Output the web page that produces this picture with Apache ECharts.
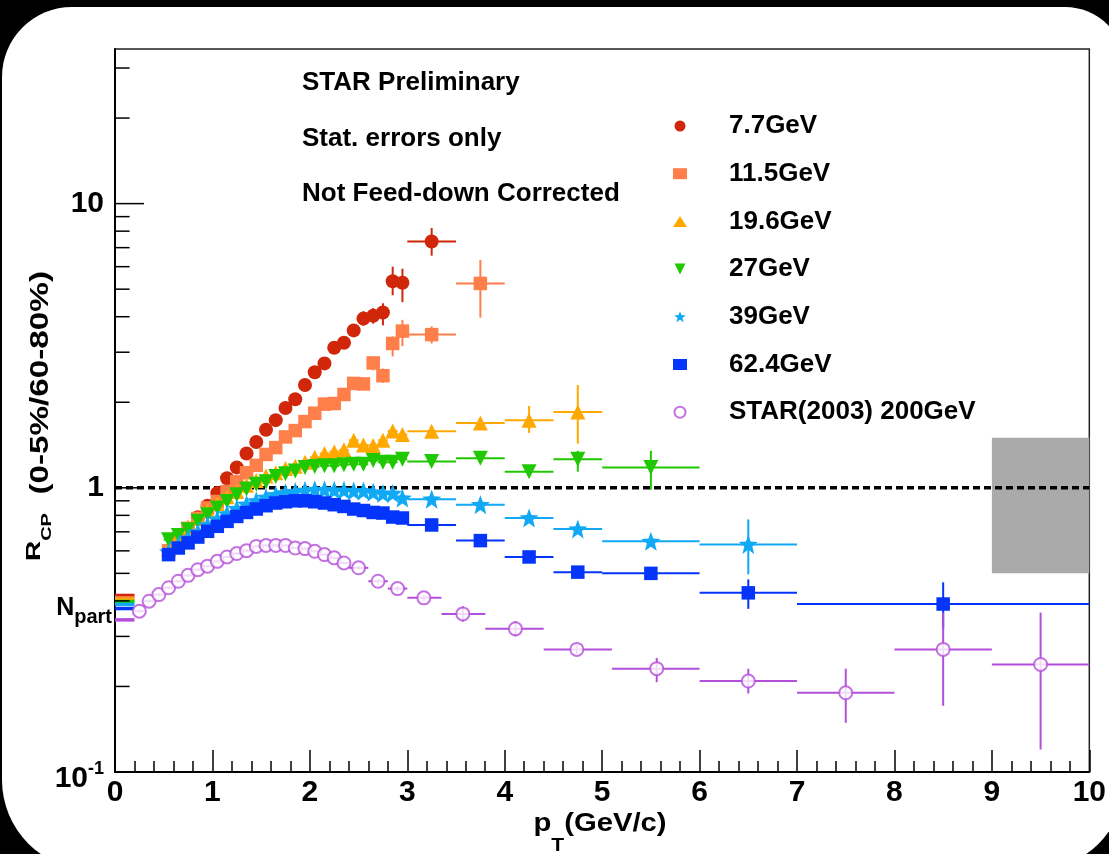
<!DOCTYPE html>
<html><head><meta charset="utf-8">
<script src="https://cdn.jsdelivr.net/npm/echarts@6/dist/echarts.min.js"></script>
<style>html,body{margin:0;padding:0;background:#000;overflow:hidden}#c{width:1109px;height:854px}</style>
</head><body><div id="c"></div>
<script>
// ---------------- data ----------------
const seriesNames = ['7.7GeV','11.5GeV','19.6GeV','27GeV','39GeV','62.4GeV','STAR(2003) 200GeV'];

const pt77 = [0.55,0.65,0.75,0.85,0.95,1.05,1.15,1.25,1.35,1.45,1.55,1.65,1.75,1.85,1.95,2.05,2.15,2.25,2.35,2.45,2.55,2.65,2.75,2.85,2.95,3.25];
const r77  = [0.60,0.65,0.71,0.787,0.865,0.958,1.08,1.18,1.32,1.45,1.60,1.73,1.91,2.05,2.30,2.55,2.74,3.11,3.24,3.58,3.94,4.03,4.14,5.33,5.27,7.36];
const ex77 = [0.05,0.05,0.05,0.05,0.05,0.05,0.05,0.05,0.05,0.05,0.05,0.05,0.05,0.05,0.05,0.05,0.05,0.05,0.05,0.05,0.05,0.05,0.05,0.05,0.05,0.25];
const eyLo77 = [0.01,0.01,0.01,0.01,0.02,0.02,0.02,0.03,0.03,0.04,0.04,0.05,0.05,0.06,0.07,0.08,0.09,0.10,0.11,0.13,0.22,0.25,0.41,0.57,0.77,0.80];
const eyHi77 = [0.01,0.01,0.01,0.01,0.02,0.02,0.02,0.03,0.03,0.04,0.04,0.05,0.05,0.06,0.07,0.08,0.09,0.10,0.11,0.13,0.24,0.26,0.32,0.67,0.63,0.85];

const pt115 = [0.55,0.65,0.75,0.85,0.95,1.05,1.15,1.25,1.35,1.45,1.55,1.65,1.75,1.85,1.95,2.05,2.15,2.25,2.35,2.45,2.55,2.65,2.75,2.85,2.95,3.25,3.75];
const r115  = [0.60,0.66,0.72,0.78,0.849,0.895,0.97,1.05,1.13,1.20,1.31,1.385,1.51,1.59,1.71,1.83,1.97,1.98,2.13,2.33,2.32,2.75,2.48,3.22,3.56,3.46,5.24];
const ex115 = [0.05,0.05,0.05,0.05,0.05,0.05,0.05,0.05,0.05,0.05,0.05,0.05,0.05,0.05,0.05,0.05,0.05,0.05,0.05,0.05,0.05,0.05,0.05,0.05,0.05,0.25,0.25];
const eyLo115 = [0.01,0.01,0.01,0.01,0.01,0.02,0.02,0.02,0.02,0.03,0.03,0.03,0.04,0.04,0.05,0.05,0.06,0.06,0.07,0.08,0.09,0.16,0.14,0.32,0.41,0.24,1.27];
const eyHi115 = [0.01,0.01,0.01,0.01,0.01,0.02,0.02,0.02,0.02,0.03,0.03,0.03,0.04,0.04,0.05,0.05,0.06,0.06,0.07,0.08,0.09,0.15,0.15,0.19,0.34,0.24,1.10];

const pt196 = [0.55,0.65,0.75,0.85,0.95,1.05,1.15,1.25,1.35,1.45,1.55,1.65,1.75,1.85,1.95,2.05,2.15,2.25,2.35,2.45,2.55,2.65,2.75,2.85,2.95,3.25,3.75,4.25,4.75];
const r196  = [0.61,0.67,0.73,0.78,0.83,0.88,0.93,0.97,1.02,1.06,1.10,1.13,1.17,1.19,1.23,1.28,1.32,1.34,1.36,1.47,1.415,1.41,1.47,1.585,1.54,1.58,1.69,1.73,1.85];
const ex196 = [0.05,0.05,0.05,0.05,0.05,0.05,0.05,0.05,0.05,0.05,0.05,0.05,0.05,0.05,0.05,0.05,0.05,0.05,0.05,0.05,0.05,0.05,0.05,0.05,0.05,0.25,0.25,0.25,0.25];
const eyLo196 = [0.01,0.01,0.01,0.01,0.01,0.02,0.02,0.02,0.02,0.02,0.02,0.02,0.02,0.02,0.02,0.03,0.03,0.03,0.03,0.03,0.03,0.04,0.04,0.05,0.05,0.03,0.04,0.17,0.42];
const eyHi196 = [0.01,0.01,0.01,0.01,0.01,0.02,0.02,0.02,0.02,0.02,0.02,0.02,0.02,0.02,0.02,0.03,0.03,0.03,0.03,0.03,0.03,0.04,0.04,0.05,0.05,0.03,0.04,0.21,0.45];

const pt27 = [0.55,0.65,0.75,0.85,0.95,1.05,1.15,1.25,1.35,1.45,1.55,1.65,1.75,1.85,1.95,2.05,2.15,2.25,2.35,2.45,2.55,2.65,2.75,2.85,2.95,3.25,3.75,4.25,4.75,5.5];
const r27  = [0.657,0.679,0.712,0.762,0.804,0.849,0.895,0.945,0.99,1.03,1.05,1.096,1.12,1.147,1.18,1.188,1.195,1.195,1.205,1.21,1.21,1.247,1.23,1.23,1.26,1.237,1.27,1.14,1.26,1.18];
const ex27 = [0.05,0.05,0.05,0.05,0.05,0.05,0.05,0.05,0.05,0.05,0.05,0.05,0.05,0.05,0.05,0.05,0.05,0.05,0.05,0.05,0.05,0.05,0.05,0.05,0.05,0.25,0.25,0.25,0.25,0.5];
const eyLo27 = [0.01,0.01,0.01,0.01,0.01,0.01,0.01,0.01,0.01,0.01,0.02,0.02,0.02,0.02,0.02,0.02,0.02,0.02,0.02,0.02,0.03,0.03,0.03,0.03,0.03,0.03,0.03,0.03,0.12,0.195];
const eyHi27 = [0.01,0.01,0.01,0.01,0.01,0.01,0.01,0.01,0.01,0.01,0.02,0.02,0.02,0.02,0.02,0.02,0.02,0.02,0.02,0.02,0.03,0.03,0.03,0.03,0.03,0.03,0.03,0.03,0.09,0.17];

const pt39 = [0.55,0.65,0.75,0.85,0.95,1.05,1.15,1.25,1.35,1.45,1.55,1.65,1.75,1.85,1.95,2.05,2.15,2.25,2.35,2.45,2.55,2.65,2.75,2.85,2.95,3.25,3.75,4.25,4.75,5.5,6.5];
const r39  = [0.595,0.63,0.665,0.70,0.74,0.775,0.81,0.845,0.875,0.90,0.925,0.945,0.96,0.97,0.98,0.985,0.985,0.98,0.98,0.975,0.975,0.965,0.955,0.955,0.92,0.912,0.872,0.783,0.716,0.648,0.632];
const ex39 = [0.05,0.05,0.05,0.05,0.05,0.05,0.05,0.05,0.05,0.05,0.05,0.05,0.05,0.05,0.05,0.05,0.05,0.05,0.05,0.05,0.05,0.05,0.05,0.05,0.05,0.25,0.25,0.25,0.25,0.5,0.5];
const eyLo39 = [0.01,0.01,0.01,0.01,0.01,0.01,0.01,0.01,0.01,0.01,0.01,0.01,0.01,0.01,0.01,0.01,0.01,0.01,0.01,0.01,0.01,0.01,0.01,0.01,0.01,0.02,0.02,0.02,0.02,0.02,0.136];
const eyHi39 = [0.01,0.01,0.01,0.01,0.01,0.01,0.01,0.01,0.01,0.01,0.01,0.01,0.01,0.01,0.01,0.01,0.01,0.01,0.01,0.01,0.01,0.01,0.01,0.01,0.01,0.02,0.02,0.02,0.02,0.02,0.142];

const pt624 = [0.55,0.65,0.75,0.85,0.95,1.05,1.15,1.25,1.35,1.45,1.55,1.65,1.75,1.85,1.95,2.05,2.15,2.25,2.35,2.45,2.55,2.65,2.75,2.85,2.95,3.25,3.75,4.25,4.75,5.5,6.5,8.5];
const r624  = [0.582,0.614,0.64,0.671,0.703,0.732,0.762,0.793,0.819,0.842,0.865,0.884,0.893,0.90,0.90,0.893,0.884,0.872,0.86,0.842,0.832,0.819,0.815,0.789,0.783,0.74,0.652,0.571,0.505,0.50,0.427,0.39];
const ex624 = [0.05,0.05,0.05,0.05,0.05,0.05,0.05,0.05,0.05,0.05,0.05,0.05,0.05,0.05,0.05,0.05,0.05,0.05,0.05,0.05,0.05,0.05,0.05,0.05,0.05,0.25,0.25,0.25,0.25,0.5,0.5,1.5];
const eyLo624 = [0.01,0.01,0.01,0.01,0.01,0.01,0.01,0.01,0.01,0.01,0.01,0.01,0.01,0.01,0.01,0.01,0.01,0.01,0.01,0.01,0.01,0.01,0.01,0.01,0.01,0.01,0.01,0.01,0.01,0.01,0.052,0.07];
const eyHi624 = [0.01,0.01,0.01,0.01,0.01,0.01,0.01,0.01,0.01,0.01,0.01,0.01,0.01,0.01,0.01,0.01,0.01,0.01,0.01,0.01,0.01,0.01,0.01,0.01,0.01,0.01,0.01,0.01,0.01,0.01,0.049,0.075];

const pt200 = [0.25,0.35,0.45,0.55,0.65,0.75,0.85,0.95,1.05,1.15,1.25,1.35,1.45,1.55,1.65,1.75,1.85,1.95,2.05,2.15,2.25,2.35,2.5,2.7,2.9,3.17,3.57,4.11,4.74,5.56,6.5,7.5,8.5,9.5];
const r200  = [0.368,0.399,0.421,0.445,0.469,0.492,0.515,0.530,0.551,0.571,0.587,0.601,0.622,0.627,0.627,0.627,0.614,0.611,0.598,0.582,0.567,0.544,0.523,0.469,0.442,0.410,0.360,0.319,0.270,0.231,0.209,0.190,0.270,0.239];
const exLo200 = [0.05,0.05,0.05,0.05,0.05,0.05,0.05,0.05,0.05,0.05,0.05,0.05,0.05,0.05,0.05,0.05,0.05,0.05,0.05,0.05,0.05,0.05,0.1,0.1,0.1,0.17,0.22,0.31,0.34,0.46,0.5,0.5,0.5,0.5];
const exHi200 = [0.05,0.05,0.05,0.05,0.05,0.05,0.05,0.05,0.05,0.05,0.05,0.05,0.05,0.05,0.05,0.05,0.05,0.05,0.05,0.05,0.05,0.05,0.1,0.1,0.1,0.18,0.23,0.29,0.36,0.44,0.5,0.5,0.5,0.5];
const eyLo200 = [0.005,0.005,0.005,0.005,0.005,0.005,0.005,0.005,0.005,0.005,0.005,0.005,0.005,0.005,0.005,0.005,0.005,0.005,0.005,0.005,0.005,0.005,0.008,0.008,0.01,0.01,0.022,0.019,0.01,0.024,0.02,0.041,0.099,0.119];
const eyHi200 = [0.005,0.005,0.005,0.005,0.005,0.005,0.005,0.005,0.005,0.005,0.005,0.005,0.005,0.005,0.005,0.005,0.005,0.005,0.005,0.005,0.005,0.005,0.008,0.008,0.01,0.01,0.023,0.021,0.01,0.021,0.022,0.041,0.094,0.125];

// N_part ratios (left edge markers), in series order
const nPart = [0.418,0.410,0.405,0.398,0.389,0.376,0.343];
const nPartX = [0, 0.2];
// systematic band (grey box)
const sysX = [9, 10];
const sysY = [0.5, 1.5];
// unity reference
const unityLine = [[0, 1], [10, 1]];
// axis ticks / labels
const yMajorTicks = [1, 10];
const yMinorTicks = [0.2,0.3,0.4,0.5,0.6,0.7,0.8,0.9,2,3,4,5,6,7,8,9,20,30];
const yLabelValues = [0.1, 1, 10];

// ---------------- styles ----------------
const FONT = '"Liberation Sans", Arial, Helvetica, sans-serif';
const colors = ['#D0260A','#FF7F4A','#FFA800','#1FC800','#11A9F5','#0535FA','#B44FDB'];
const STAR = 'path://M50,0 L62.5,33 L100,35.4 L71,58 L81,95 L50,74 L19,95 L29,58 L0,35.4 L37.5,33 Z';
const INVTRI = 'path://M0,0 L100,0 L50,100 Z';
const markerDefs = [
  {symbol:'circle', size:14},
  {symbol:'rect', size:13.5},
  {symbol:'triangle', size:15},
  {symbol:INVTRI, size:15},
  {symbol:STAR, size:19},
  {symbol:'rect', size:13.5},
  {symbol:'emptyCircle', size:13}
];

const sets = [
  [pt77, r77, ex77, ex77, eyLo77, eyHi77],
  [pt115, r115, ex115, ex115, eyLo115, eyHi115],
  [pt196, r196, ex196, ex196, eyLo196, eyHi196],
  [pt27, r27, ex27, ex27, eyLo27, eyHi27],
  [pt39, r39, ex39, ex39, eyLo39, eyHi39],
  [pt624, r624, ex624, ex624, eyLo624, eyHi624],
  [pt200, r200, exLo200, exHi200, eyLo200, eyHi200]
];

function errRows(s) {
  const [pt, r, exLo, exHi, eyLo, eyHi] = s;
  return pt.map((x, i) => [x, r[i], x - exLo[i], x + exHi[i], r[i] - eyLo[i], r[i] + eyHi[i]]);
}
function errSeries(rows, color) {
  return {
    type: 'custom', data: rows, z: 3, silent: true, clip: true,
    renderItem: (p, api) => {
      const x = api.value(0), y = api.value(1);
      const a = api.coord([api.value(2), y]), b = api.coord([api.value(3), y]);
      const c = api.coord([x, api.value(4)]), d = api.coord([x, api.value(5)]);
      return {type: 'group', children: [
        {type: 'line', shape: {x1: a[0], y1: a[1], x2: b[0], y2: b[1]}, style: {stroke: color, lineWidth: 2}},
        {type: 'line', shape: {x1: c[0], y1: c[1], x2: d[0], y2: d[1]}, style: {stroke: color, lineWidth: 2}}
      ]};
    }
  };
}

const series = [];
series.push({
  type: 'custom', silent: true, z: 1, data: [[sysX[0], sysY[0], sysX[1], sysY[1]]],
  renderItem: (p, api) => {
    const a = api.coord([api.value(0), api.value(3)]);
    const b = api.coord([api.value(2), api.value(1)]);
    return {type: 'rect', shape: {x: a[0], y: a[1], width: b[0] - a[0], height: b[1] - a[1]}, style: {fill: '#AAAAAA'}};
  }
});
series.push({
  type: 'line', data: unityLine, symbol: 'none', silent: true, z: 2,
  lineStyle: {color: '#000', width: 3.5, type: [7, 4]}
});
series.push({
  type: 'custom', silent: true, z: 2, data: nPart.map((v, i) => [nPartX[0], v, i]),
  renderItem: (p, api) => {
    const v = api.value(1), i = api.value(2);
    const a = api.coord([nPartX[0], v]), b = api.coord([nPartX[1], v]);
    return {type: 'line', shape: {x1: a[0], y1: a[1], x2: b[0], y2: b[1]}, style: {stroke: colors[i], lineWidth: 3.5}};
  }
});
function tickSeries(vals, len) {
  return {
    type: 'custom', silent: true, z: 5, clip: false, data: vals.map(v => [0, v]),
    renderItem: (p, api) => {
      const a = api.coord([0, api.value(1)]);
      return {type: 'line', shape: {x1: a[0], y1: a[1], x2: a[0] + len, y2: a[1]}, style: {stroke: '#000', lineWidth: 1.5}};
    }
  };
}
series.push(tickSeries(yMajorTicks, 29));
series.push(tickSeries(yMinorTicks, 14.6));
sets.forEach((s, k) => series.push(errSeries(errRows(s), colors[k])));
sets.forEach((s, k) => {
  const m = markerDefs[k];
  series.push({
    type: 'scatter', name: seriesNames[k], z: 4,
    data: s[0].map((x, i) => [x, s[1][i]]),
    symbol: m.symbol, symbolSize: m.size,
    itemStyle: k === 6 ? {color: colors[k], borderColor: colors[k], borderWidth: 2} : {color: colors[k], opacity: 1}
  });
});

const txt = (text, x, y) => ({
  type: 'text', x: x, y: y, z: 100, silent: true,
  style: {text: text, fill: '#000', fontFamily: FONT, fontSize: 26, fontWeight: 'bold', align: 'left', verticalAlign: 'middle'}
});

const option = {
  animation: false,
  backgroundColor: '#000',
  grid: {left: 115, right: 19, top: 49, bottom: 82, show: true, borderColor: '#222', borderWidth: 1.5, backgroundColor: 'transparent'},
  xAxis: {
    type: 'value', min: 0, max: 10, interval: 1,
    axisLine: {show: true, onZero: false, lineStyle: {color: '#000', width: 2}},
    axisTick: {show: true, inside: true, length: 22, lineStyle: {color: '#000', width: 1.5}},
    minorTick: {show: true, splitNumber: 5, length: 11, lineStyle: {color: '#000', width: 1.5}},
    splitLine: {show: false},
    axisLabel: {fontFamily: FONT, fontSize: 30, fontWeight: 'bold', color: '#000', margin: 6}
  },
  yAxis: {
    type: 'log', logBase: 10, min: 0.1, max: 35,
    axisLine: {show: true, onZero: false, lineStyle: {color: '#000', width: 2}},
    axisTick: {show: false},
    splitLine: {show: false},
    axisLabel: {
      fontFamily: FONT, fontSize: 30, fontWeight: 'bold', color: '#000', margin: 11,
      formatter: v => {
        const hit = yLabelValues.find(t => Math.abs(v - t) / t < 1e-6);
        if (hit === undefined) return '';
        if (hit === 0.1) return '{a|10}{e|-1}';
        return String(hit);
      },
      rich: {
        a: {fontFamily: FONT, fontSize: 30, fontWeight: 'bold', color: '#000', verticalAlign: 'bottom', padding: [14, 0, 0, 0]},
        e: {fontFamily: FONT, fontSize: 18, fontWeight: 'bold', color: '#000', verticalAlign: 'top', padding: [10, 0, 0, 0]}
      }
    }
  },
  legend: {
    data: seriesNames, orient: 'vertical', left: 668, top: 108,
    itemWidth: 14, itemHeight: 11, itemGap: 21.7, selectedMode: false,
    textStyle: {fontFamily: FONT, fontSize: 26, fontWeight: 'bold', color: '#000', padding: [0, 0, 0, 37]}
  },
  graphic: [
    {type: 'rect', z: -100, silent: true, shape: {x: 2, y: 7, width: 1123, height: 863, r: [70, 60, 90, 90]}, style: {fill: '#fff'}},
    txt('STAR Preliminary', 302, 83),
    txt('Stat. errors only', 302, 139),
    txt('Not Feed-down Corrected', 302, 194),
    {type: 'text', x: 112, y: 596, z: 100, silent: true,
      style: {text: '{n|N}{p|part}', align: 'right', verticalAlign: 'top',
        rich: {
          n: {fontFamily: FONT, fontSize: 25, fontWeight: 'bold', fill: '#000', verticalAlign: 'top'},
          p: {fontFamily: FONT, fontSize: 20, fontWeight: 'bold', fill: '#000', verticalAlign: 'bottom', lineHeight: 31}
        }}},
    {type: 'text', x: 24, y: 416, rotation: Math.PI / 2, scaleX: 1.33, z: 100, silent: true,
      style: {text: '{r|R}{s|CP}{t|  (0-5%/60-80%)}', align: 'center', verticalAlign: 'top',
        rich: {
          r: {fontFamily: FONT, fontSize: 21, fontWeight: 'bold', fill: '#000', verticalAlign: 'top'},
          s: {fontFamily: FONT, fontSize: 15, fontWeight: 'bold', fill: '#000', verticalAlign: 'bottom', lineHeight: 30},
          t: {fontFamily: FONT, fontSize: 25, fontWeight: 'bold', fill: '#000', verticalAlign: 'bottom'}
        }}},
    {type: 'text', x: 600, y: 812, scaleX: 1.17, z: 100, silent: true,
      style: {text: '{p|p}{s|T}{t|(GeV/c)}', align: 'center', verticalAlign: 'top',
        rich: {
          p: {fontFamily: FONT, fontSize: 25, fontWeight: 'bold', fill: '#000', verticalAlign: 'top'},
          s: {fontFamily: FONT, fontSize: 18, fontWeight: 'bold', fill: '#000', verticalAlign: 'bottom', lineHeight: 43},
          t: {fontFamily: FONT, fontSize: 25, fontWeight: 'bold', fill: '#000', verticalAlign: 'top'}
        }}}
  ],
  series: series
};

const chart = echarts.init(document.getElementById('c'), null, {renderer: 'canvas', width: 1109, height: 854});
chart.setOption(option);
</script></body></html>
